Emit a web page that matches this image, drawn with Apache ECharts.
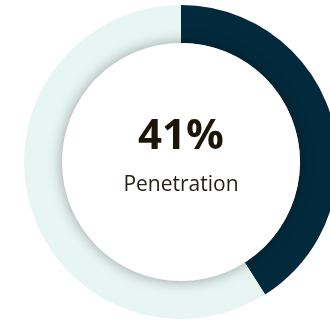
<!DOCTYPE html>
<html><head><meta charset="utf-8">
<script src="https://cdn.jsdelivr.net/npm/echarts@6/dist/echarts.min.js"></script>
<style>html,body{margin:0;padding:0;background:#fff}#c{width:330px;height:320px}</style>
</head><body><div id="c"></div>
<script>
const categories = ['Penetration', 'Remaining'];
const values = [41, 59];
const centerValue = '41%';
const centerLabel = 'Penetration';

const chart = echarts.init(document.getElementById('c'), null, {renderer: 'canvas'});
chart.setOption({
  animation: false,
  series: [
    {
      type: 'pie',
      center: [181, 162],
      radius: [119, 157],
      startAngle: 90,
      clockwise: true,
      label: {show: false},
      labelLine: {show: false},
      silent: true,
      data: categories.map((n, i) => ({
        name: n, value: values[i],
        itemStyle: {color: i === 0 ? '#032a3c' : '#e7f5f3', borderWidth: 0}
      }))
    },
    {
      type: 'pie',
      center: [181, 162],
      radius: [0, 119],
      silent: true,
      label: {show: false},
      z: 3,
      data: [{value: 1, itemStyle: {color: '#ffffff', shadowBlur: 14, shadowColor: 'rgba(0,0,0,0.35)'}}]
    }
  ],
  graphic: [
    {type: 'text', x: 181, y: 116, z: 10,
     style: {text: centerValue, fill: '#1d140a', font: 'bold 42px "Open Sans"', align: 'center', verticalAlign: 'top'}},
    {type: 'text', x: 181, y: 175, z: 10,
     style: {text: centerLabel, fill: '#2a2116', font: '21px "Open Sans"', align: 'center', verticalAlign: 'top'}}
  ]
});
</script></body></html>
